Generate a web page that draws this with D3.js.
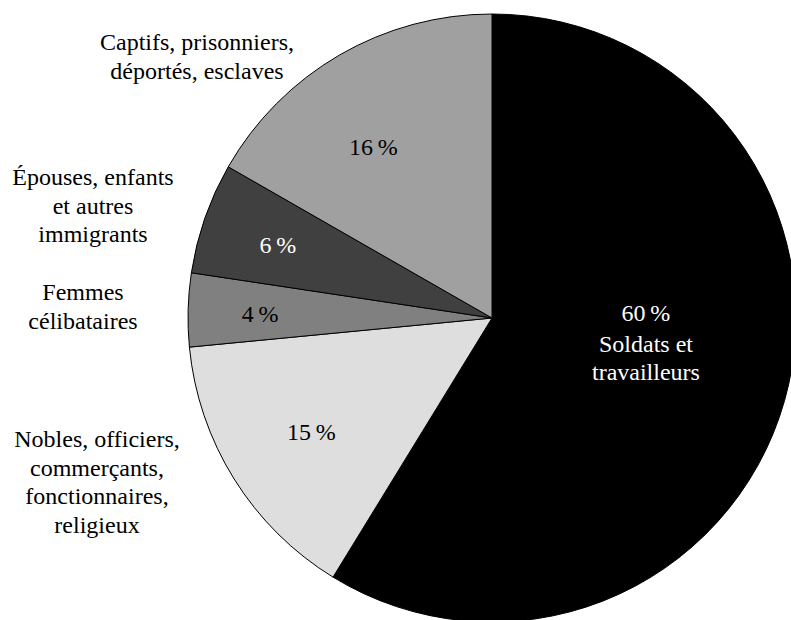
<!DOCTYPE html>
<html>
<head>
<meta charset="utf-8">
<script src="https://cdn.jsdelivr.net/npm/d3@7"></script>
<style>
  body { margin: 0; background: #fff; }
  svg text { font-family: "Liberation Serif", "DejaVu Serif", serif; font-size: 24px; }
</style>
</head>
<body>
<svg id="chart" width="791" height="620"></svg>
<script>
// slices, clockwise from 12 o'clock
var categories = ["Soldats et travailleurs", "Nobles, officiers, commerçants, fonctionnaires, religieux",
    "Femmes célibataires", "Épouses, enfants et autres immigrants", "Captifs, prisonniers, déportés, esclaves"];
var shares = [58.7, 14.7, 3.9, 5.9, 16.7];   // measured slice sizes
var pctLabels = ["60\u2009%", "15\u2009%", "4\u2009%", "6\u2009%", "16\u2009%"];   // as printed
var sideLines = [
    ["Soldats et", "travailleurs"],
    ["Nobles, officiers,", "commerçants,", "fonctionnaires,", "religieux"],
    ["Femmes", "célibataires"],
    ["Épouses, enfants", "et autres", "immigrants"],
    ["Captifs, prisonniers,", "déportés, esclaves"]
];
var fills = ["#000000", "#dedede", "#808080", "#404040", "#a0a0a0"];

var cx = 492, cy = 318, radius = 304;
var lineH = 28.5;

var svg = d3.select("#chart");
var g = svg.append("g").attr("transform", "translate(" + cx + "," + cy + ")");

var pie = d3.pie().sort(null).value(d => d);
var arc = d3.arc().innerRadius(0).outerRadius(radius);
var arcs = pie(shares);

g.selectAll("path.slice")
    .data(arcs)
    .join("path")
    .attr("class", "slice")
    .attr("d", arc)
    .attr("fill", (d, i) => fills[i])
    .attr("stroke", "#000")
    .attr("stroke-width", 1);

// percent label baselines inside slices (polar: angle deg clockwise from top, radius)
var inPos = [[91, 154], [236, 218], [269, 232], [287, 224], [324, 202]];
function polar(p) {
    var a = p[0] * Math.PI / 180;
    return [p[1] * Math.sin(a), -p[1] * Math.cos(a)];
}

var pct = g.selectAll("text.pct")
    .data(arcs)
    .join("text")
    .attr("class", "pct")
    .attr("text-anchor", "middle")
    .attr("fill", (d, i) => (i == 0 || i == 3) ? "#fff" : "#000")
    .attr("x", (d, i) => polar(inPos[i])[0])
    .attr("y", (d, i) => polar(inPos[i])[1])
    .text((d, i) => pctLabels[i]);

// black slice carries its category inside, under the percent
var blk = polar(inPos[0]);
var t0 = g.append("text")
    .attr("text-anchor", "middle")
    .attr("fill", "#fff")
    .attr("x", blk[0]).attr("y", blk[1] + 31);
sideLines[0].forEach(function(s, j) {
    t0.append("tspan").attr("x", blk[0]).attr("dy", j == 0 ? 0 : lineH).text(s);
});

// outside category labels: centre x, first baseline
var outPos = [null, [97, 447], [83, 300], [93, 185], [197, 50]];
for (var k = 1; k < sideLines.length; k++) {
    var t = svg.append("text")
        .attr("text-anchor", "middle")
        .attr("fill", "#000")
        .attr("x", outPos[k][0]).attr("y", outPos[k][1]);
    sideLines[k].forEach(function(s, j) {
        t.append("tspan").attr("x", outPos[k][0]).attr("dy", j == 0 ? 0 : lineH).text(s);
    });
}
</script>
</body>
</html>
